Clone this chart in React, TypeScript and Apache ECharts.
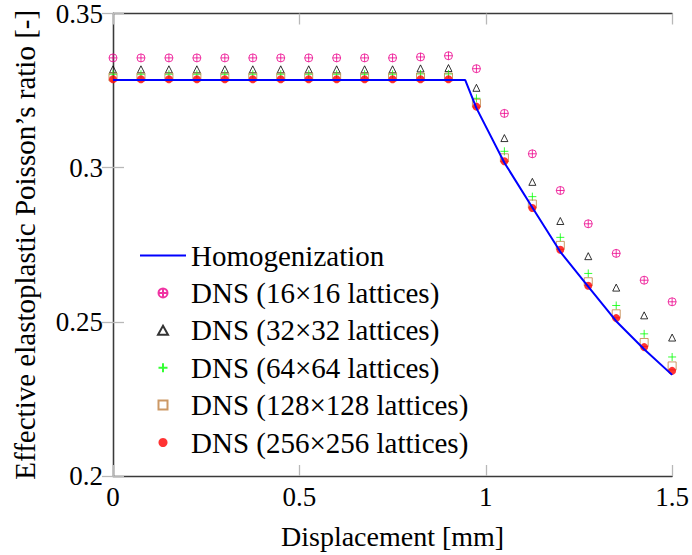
import React, { useEffect, useRef } from "react";
import * as echarts from "echarts";

const xDisp = [0, 0.075, 0.15, 0.225, 0.3, 0.375, 0.45, 0.525, 0.6, 0.675, 0.75, 0.825, 0.9, 0.975, 1.05, 1.125, 1.2, 1.275, 1.35, 1.425, 1.5];

const homogX = [0, 0.945, 0.975, 1.05, 1.125, 1.2, 1.275, 1.35, 1.425, 1.5];
const homogY = [0.3284, 0.3284, 0.3193, 0.3016, 0.2871, 0.2727, 0.2614, 0.2502, 0.2411, 0.2328];

const dns16 = [0.3356, 0.3356, 0.3356, 0.3356, 0.3356, 0.3356, 0.3356, 0.3356, 0.3356, 0.3356, 0.3356, 0.3359, 0.3363, 0.3321, 0.3176, 0.3045, 0.2926, 0.2818, 0.2722, 0.2635, 0.2565];
const dns32 = [0.3319, 0.3319, 0.3319, 0.3319, 0.3319, 0.3319, 0.3319, 0.3319, 0.3319, 0.3319, 0.3319, 0.3322, 0.3323, 0.3259, 0.3096, 0.2954, 0.2827, 0.2713, 0.2611, 0.2521, 0.2449];
const dns64 = [0.3303, 0.3303, 0.3303, 0.3303, 0.3303, 0.3303, 0.3303, 0.3303, 0.3303, 0.3303, 0.3303, 0.3304, 0.3304, 0.3225, 0.3053, 0.2906, 0.2774, 0.2657, 0.2553, 0.2461, 0.2386];
const dns128 = [0.3294, 0.3294, 0.3294, 0.3294, 0.3294, 0.3294, 0.3294, 0.3294, 0.3294, 0.3294, 0.3294, 0.3294, 0.3294, 0.3209, 0.3032, 0.2882, 0.2748, 0.263, 0.2526, 0.2433, 0.2357];
const dns256 = [0.3287, 0.3287, 0.3287, 0.3287, 0.3287, 0.3287, 0.3287, 0.3287, 0.3287, 0.3287, 0.3287, 0.3287, 0.3287, 0.3198, 0.3021, 0.2869, 0.2734, 0.2617, 0.2512, 0.2418, 0.2341];

const legendNames = [
  "Homogenization",
  "DNS (16×16 lattices)",
  "DNS (32×32 lattices)",
  "DNS (64×64 lattices)",
  "DNS (128×128 lattices)",
  "DNS (256×256 lattices)",
];

const xTicks = { min: 0, max: 1.5, interval: 0.5 };
const yTicks = { min: 0.2, max: 0.35, interval: 0.05 };

const FONT = "Liberation Serif";

export default function App() {
  const ref = useRef<HTMLDivElement>(null);
  useEffect(() => {
    if (!ref.current) return;
    const chart = echarts.init(ref.current, undefined, { renderer: "svg" });
    const pair = (ys: number[]) => xDisp.map((x, i) => [x, ys[i]]);
    const oplus = "path://M0,5 A5,5 0 1,1 10,5 A5,5 0 1,1 0,5 Z M5,0 L5,10 M0,5 L10,5";
    const plus = "path://M5,0 L5,10 M0,5 L10,5";
    const tri = "path://M5,0 L10,9 L0,9 Z";
    const square = "path://M0,0 L10,0 L10,10 L0,10 Z";
    const bar = "path://M0,0 L46,0 L46,2 L0,2 Z";
    const axisLine = { show: true, lineStyle: { color: "#3a3a3a", width: 1.3 } };
    const tick = { show: true, inside: true, length: 11, lineStyle: { color: "#b8b8b8", width: 1.3 } };
    const label = { color: "#000", fontFamily: FONT, fontSize: 27 };
    const scatterBase = { type: "scatter", xAxisIndex: 0, yAxisIndex: 0 } as any;
    chart.setOption({
      animation: false,
      grid: { left: 113, right: 18, top: 11, bottom: 77 },
      legend: {
        left: 140,
        top: 241,
        padding: 0,
        orient: "vertical",
        itemWidth: 46,
        itemHeight: 9,
        itemGap: 8.4,
        data: legendNames.map((n, i) => (i === 0 ? { name: n, icon: bar } : { name: n })),
        textStyle: { color: "#000", fontFamily: FONT, fontSize: 29, lineHeight: 27 },
      },
      xAxis: [
        {
          type: "value",
          ...xTicks,
          position: "bottom",
          name: "Displacement [mm]",
          nameLocation: "middle",
          nameGap: 46,
          nameTextStyle: { color: "#000", fontFamily: FONT, fontSize: 28 },
          axisLine,
          axisTick: tick,
          axisLabel: { ...label, margin: 7 },
          splitLine: { show: false },
        },
        {
          type: "value",
          ...xTicks,
          position: "top",
          axisLine,
          axisTick: tick,
          axisLabel: { show: false },
          splitLine: { show: false },
        },
      ],
      yAxis: [
        {
          type: "value",
          ...yTicks,
          position: "left",
          name: "Effective elastoplastic Poisson’s ratio [-]",
          nameLocation: "middle",
          nameGap: 74,
          nameTextStyle: { color: "#000", fontFamily: FONT, fontSize: 29 },
          axisLine,
          axisTick: tick,
          axisLabel: { ...label, margin: 10 },
          splitLine: { show: false },
        },
        {
          type: "value",
          ...yTicks,
          position: "right",
          axisLine,
          axisTick: tick,
          axisLabel: { show: false },
          splitLine: { show: false },
        },
      ],
      series: [
        {
          name: legendNames[0],
          type: "line",
          data: homogX.map((x, i) => [x, homogY[i]]),
          showSymbol: false,
          symbol: "none",
          lineStyle: { color: "#0000ff", width: 2 },
          itemStyle: { color: "#0000ff" },
        },
        {
          ...scatterBase,
          name: legendNames[1],
          data: pair(dns16),
          symbol: oplus,
          symbolSize: 8,
          itemStyle: { color: "rgba(0,0,0,0)", borderColor: "#EC008C", borderWidth: 1 },
        },
        {
          ...scatterBase,
          name: legendNames[2],
          data: pair(dns32),
          symbol: tri,
          symbolSize: 7,
          itemStyle: { color: "rgba(0,0,0,0)", borderColor: "#000", borderWidth: 1 },
        },
        {
          ...scatterBase,
          name: legendNames[3],
          data: pair(dns64),
          symbol: plus,
          symbolSize: 8,
          itemStyle: { color: "rgba(0,0,0,0)", borderColor: "#00ff00", borderWidth: 1 },
        },
        {
          ...scatterBase,
          name: legendNames[4],
          data: pair(dns128),
          symbol: square,
          symbolSize: 8,
          itemStyle: { color: "rgba(0,0,0,0)", borderColor: "#bf8040", borderWidth: 1 },
        },
        {
          ...scatterBase,
          name: legendNames[5],
          data: pair(dns256),
          symbol: "circle",
          symbolSize: 8,
          itemStyle: { color: "#ff0000" },
        },
      ],
    });
    return () => chart.dispose();
  }, []);
  return <div ref={ref} style={{ width: 692, height: 555, position: "absolute", left: 0, top: 0 }} />;
}
